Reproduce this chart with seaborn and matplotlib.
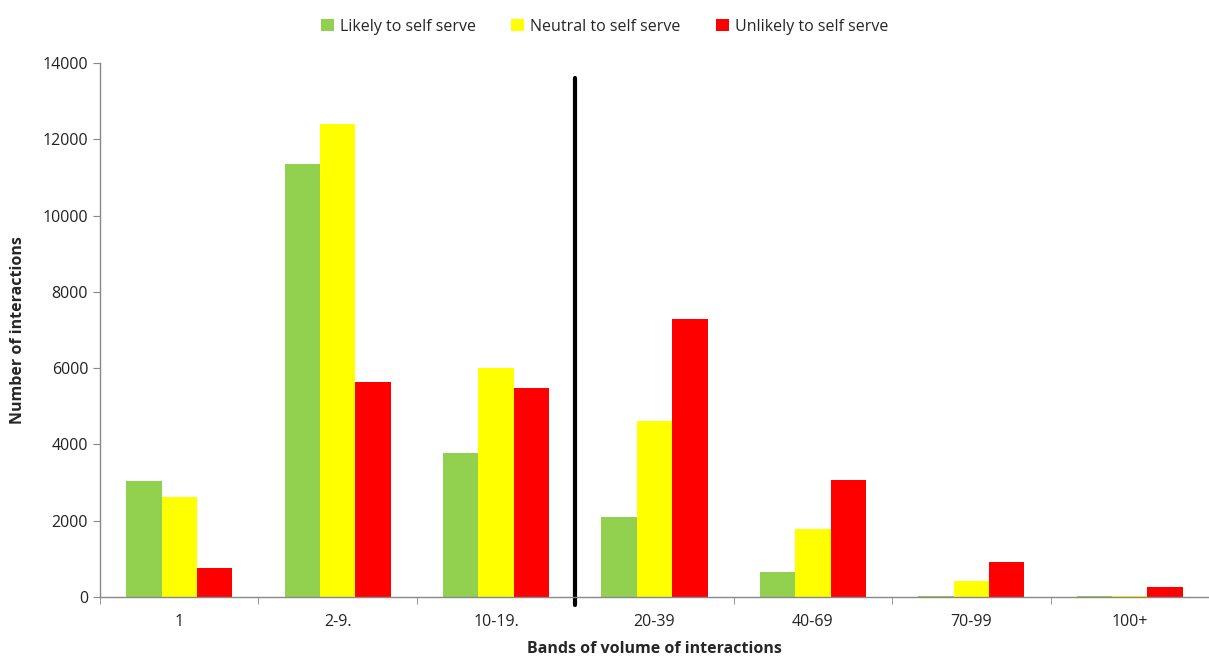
import matplotlib
matplotlib.use("Agg")
import matplotlib.pyplot as plt
import seaborn as sns
import pandas as pd
import numpy as np

categories = ["1", "2-9.", "10-19.", "20-39", "40-69", "70-99", "100+"]
likely = [3050, 11350, 3785, 2100, 650, 30, 20]
neutral = [2630, 12400, 6000, 4615, 1775, 420, 20]
unlikely = [770, 5630, 5475, 7300, 3060, 920, 272]
series_names = ["Likely to self serve", "Neutral to self serve", "Unlikely to self serve"]
colors = ["#92D050", "#FFFF00", "#FF0000"]
y_ticks = [0, 2000, 4000, 6000, 8000, 10000, 12000, 14000]

rows = []
for name, vals in zip(series_names, [likely, neutral, unlikely]):
    for c, v in zip(categories, vals):
        rows.append({"band": c, "series": name, "value": v})
df = pd.DataFrame(rows)

sns.set_style("white")
plt.rcParams["font.family"] = ["Open Sans", "DejaVu Sans"]

fig = plt.figure(figsize=(12.09, 6.58), dpi=100)
ax = fig.add_axes([100 / 1209, 1 - 597 / 658, 1 - 100 / 1209, (597 - 63) / 658])

sns.barplot(data=df, x="band", y="value", hue="series", order=categories,
            hue_order=series_names, palette=colors, width=0.67, saturation=1,
            linewidth=0, ax=ax, legend=True)

ax.set_ylim(0, 14000)
ax.set_xlim(-0.5, len(categories) - 0.5)
ax.set_yticks(y_ticks)
ax.set_yticklabels([str(t) for t in y_ticks], fontsize=11.5, color="#222222")
ax.tick_params(axis="x", which="major", length=0, labelsize=11.5, labelcolor="#222222", pad=12)
ax.set_xticks(np.arange(-0.5, len(categories) + 0.5, 1), minor=True)
ax.tick_params(axis="x", which="minor", length=5, color="#888888", direction="out", bottom=True)
ax.tick_params(axis="y", length=5, color="#888888", direction="out", left=True)

for s in ["top", "right"]:
    ax.spines[s].set_visible(False)
for s in ["left", "bottom"]:
    ax.spines[s].set_color("#888888")
    ax.spines[s].set_linewidth(1)

ax.set_xlabel("Bands of volume of interactions", fontsize=11.5, fontweight="bold", labelpad=8)
ax.set_ylabel("Number of interactions", fontsize=11.5, fontweight="bold", labelpad=12)

ax.axvline(2.5, ymin=-0.015, ymax=0.972, color="black", lw=3, clip_on=False)

handles, labels = ax.get_legend_handles_labels()
ax.legend(handles, labels, loc="upper center", bbox_to_anchor=(0.455, 1.11), ncol=3,
          frameon=False, fontsize=11.5, handlelength=0.8, handleheight=0.8,
          handletextpad=0.4, columnspacing=2.2)

fig.savefig("out.png", dpi=100)
